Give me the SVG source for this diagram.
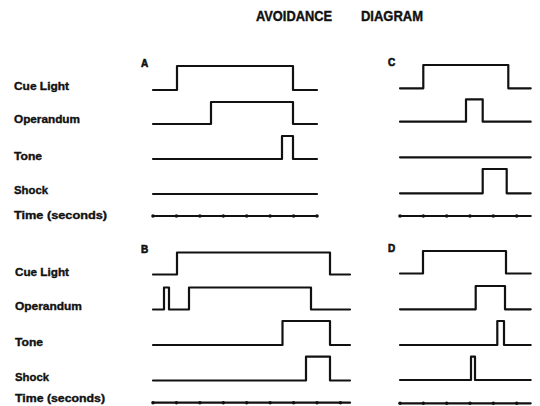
<svg xmlns="http://www.w3.org/2000/svg" width="540" height="406" viewBox="0 0 540 406">
<style>
.bg{fill:#ffffff}
.sig{fill:none;stroke:#111;stroke-width:2.2;stroke-linejoin:round;stroke-linecap:round}
.tick{fill:#111}
.lbl{font-family:"Liberation Sans",Arial,sans-serif;font-weight:bold;font-size:10.5px;fill:#111;stroke:#111;stroke-width:0.35}
.ttl{font-family:"Liberation Sans",Arial,sans-serif;font-weight:bold;font-size:14px;fill:#111;stroke:#111;stroke-width:0.4}
.pl{font-family:"Liberation Sans",Arial,sans-serif;font-weight:bold;font-size:10px;fill:#111;stroke:#111;stroke-width:0.6}
</style>
<rect class="bg" x="0" y="0" width="540" height="406"/>
<g id="title">
<text class="ttl" x="256" y="21" textLength="76" lengthAdjust="spacingAndGlyphs">AVOIDANCE</text>
<text class="ttl" x="361" y="21" textLength="62" lengthAdjust="spacingAndGlyphs">DIAGRAM</text>
</g>
<g id="labels-top">
<text class="lbl" x="14" y="90" textLength="55" lengthAdjust="spacingAndGlyphs">Cue Light</text>
<text class="lbl" x="14" y="123" textLength="66" lengthAdjust="spacingAndGlyphs">Operandum</text>
<text class="lbl" x="14" y="160" textLength="28" lengthAdjust="spacingAndGlyphs">Tone</text>
<text class="lbl" x="14" y="194" textLength="34" lengthAdjust="spacingAndGlyphs">Shock</text>
<text class="lbl" x="14" y="219" textLength="93" lengthAdjust="spacingAndGlyphs">Time (seconds)</text>
</g>
<g id="labels-bottom">
<text class="lbl" x="15" y="276" textLength="54" lengthAdjust="spacingAndGlyphs">Cue Light</text>
<text class="lbl" x="15" y="310" textLength="67" lengthAdjust="spacingAndGlyphs">Operandum</text>
<text class="lbl" x="15" y="346" textLength="28" lengthAdjust="spacingAndGlyphs">Tone</text>
<text class="lbl" x="15" y="381" textLength="34" lengthAdjust="spacingAndGlyphs">Shock</text>
<text class="lbl" x="15" y="402" textLength="90" lengthAdjust="spacingAndGlyphs">Time (seconds)</text>
</g>
<g id="panel-A">
<text class="pl" x="141" y="67">A</text>
<path class="sig" d="M153 90 H177 V66 H293 V90 H317"/>
<path class="sig" d="M153 124 H211 V102 H293 V124 H317"/>
<path class="sig" d="M153 159 H282 V136 H293 V159 H317"/>
<path class="sig" d="M153 194 H317"/>
<path class="sig" d="M153 216 H317"/>
<g class="tick">
<circle cx="153" cy="216" r="1.8"/><circle cx="176.4" cy="216" r="1.8"/><circle cx="199.9" cy="216" r="1.8"/><circle cx="223.3" cy="216" r="1.8"/><circle cx="246.7" cy="216" r="1.8"/><circle cx="270.1" cy="216" r="1.8"/><circle cx="293.6" cy="216" r="1.8"/><circle cx="317" cy="216" r="1.8"/>
</g>
</g>
<g id="panel-B">
<text class="pl" x="141" y="253">B</text>
<path class="sig" d="M153 274.5 H177 V252.5 H330 V274.5 H350"/>
<path class="sig" d="M153 309.5 H164 V287.5 H169 V309.5 H189 V287.5 H311 V309.5 H350"/>
<path class="sig" d="M153 345 H282.5 V321 H330 V345 H350"/>
<path class="sig" d="M153 380.5 H306 V356.7 H330 V380.5 H350"/>
<path class="sig" d="M153 402.7 H350"/>
<g class="tick">
<circle cx="153" cy="402.7" r="1.8"/><circle cx="176.4" cy="402.7" r="1.8"/><circle cx="199.9" cy="402.7" r="1.8"/><circle cx="223.3" cy="402.7" r="1.8"/><circle cx="246.7" cy="402.7" r="1.8"/><circle cx="270.1" cy="402.7" r="1.8"/><circle cx="293.6" cy="402.7" r="1.8"/><circle cx="317" cy="402.7" r="1.8"/><circle cx="340.4" cy="402.7" r="1.8"/>
</g>
</g>
<g id="panel-C">
<text class="pl" x="388" y="65.5">C</text>
<path class="sig" d="M400 88.3 H423.3 V65 H508.3 V88.3 H530.7"/>
<path class="sig" d="M400 121.7 H466 V99.3 H482.7 V121.7 H530.7"/>
<path class="sig" d="M400 157.3 H530.7"/>
<path class="sig" d="M400 193.3 H482.7 V169 H506.7 V193.3 H530.7"/>
<path class="sig" d="M400 216 H530.7"/>
<g class="tick">
<circle cx="400" cy="216" r="1.8"/><circle cx="423.3" cy="216" r="1.8"/><circle cx="446.7" cy="216" r="1.8"/><circle cx="470" cy="216" r="1.8"/><circle cx="493.3" cy="216" r="1.8"/><circle cx="516.7" cy="216" r="1.8"/>
</g>
</g>
<g id="panel-D">
<text class="pl" x="388" y="251.5">D</text>
<path class="sig" d="M400 273.5 H423 V251 H506 V273.5 H530.7"/>
<path class="sig" d="M400 309.3 H475.7 V286 H505 V309.3 H530.7"/>
<path class="sig" d="M400 345 H497.3 V321 H504 V345 H530.7"/>
<path class="sig" d="M400 380 H471 V356.7 H475 V380 H530.7"/>
<path class="sig" d="M400 403.3 H530.7"/>
<g class="tick">
<circle cx="400" cy="403.3" r="1.8"/><circle cx="423.3" cy="403.3" r="1.8"/><circle cx="446.7" cy="403.3" r="1.8"/><circle cx="470" cy="403.3" r="1.8"/><circle cx="493.3" cy="403.3" r="1.8"/><circle cx="516.7" cy="403.3" r="1.8"/>
</g>
</g>
</svg>
